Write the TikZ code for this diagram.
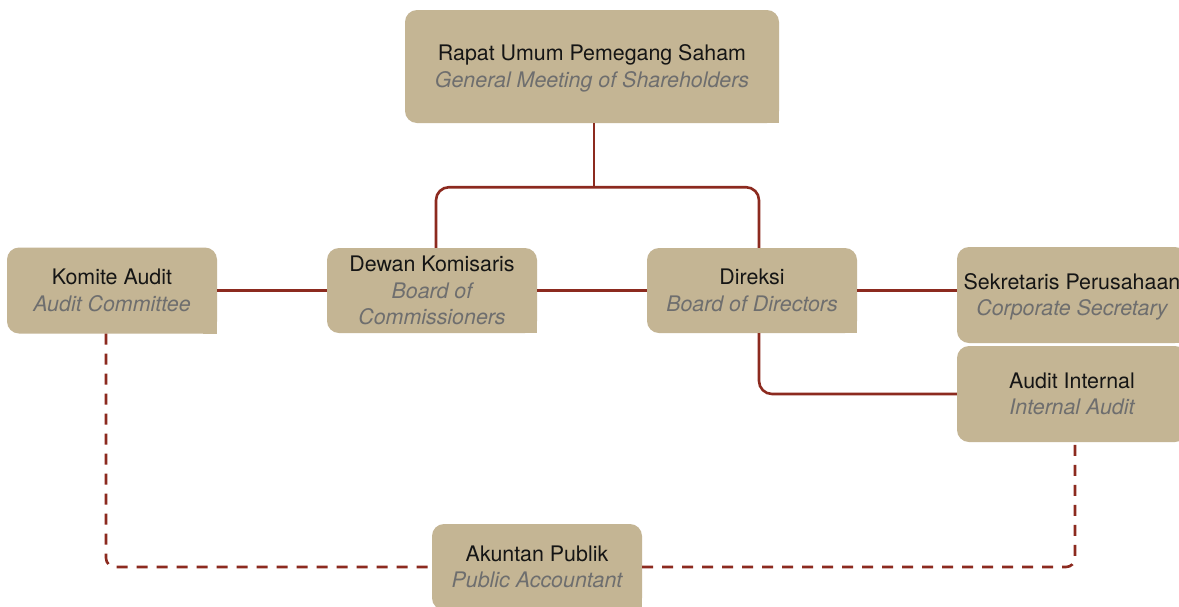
\documentclass[tikz,border=0pt]{standalone}
\usepackage{fontspec}
\setmainfont{TeX Gyre Heros}
\usetikzlibrary{backgrounds}

\definecolor{boxfill}{HTML}{C4B594}
\definecolor{linkred}{HTML}{8C2A1F}
\definecolor{maintext}{HTML}{151515}
\definecolor{subgray}{HTML}{6E6E6E}

% every line gets the same strut so the caps sit centred in the box
\newcommand{\orgstrut}{\rule[-5.55pt]{0pt}{26.5pt}}
\newcommand{\orgmain}[1]{{\orgstrut\color{maintext}#1}}
\newcommand{\orgsub}[1]{{\orgstrut\color{subgray}\itshape #1}}

\tikzset{
  orgbox/.style={fill=boxfill, rounded corners=12pt, inner sep=0pt, align=center,
    font=\fontsize{21.4}{26.5}\selectfont, minimum width=210pt, minimum height=86pt},
  conn/.style={draw=linkred, line width=2.6pt},
  dashconn/.style={conn, dash pattern=on 11pt off 9pt},
}

\begin{document}
\begin{tikzpicture}[x=1pt, y=-1pt]
\useasboundingbox (0,0) rectangle (1179,606);

% boxes
\node[orgbox, minimum width=374pt, minimum height=113pt] (rups) at (592,66.5)
  {\orgmain{Rapat Umum Pemegang Saham}\\\orgsub{General Meeting of Shareholders}};
\node[orgbox] (ka) at (112,290.5)
  {\orgmain{Komite Audit}\\\orgsub{Audit Committee}};
\node[orgbox, minimum height=85pt] (dk) at (432,290.5)
  {\orgmain{Dewan Komisaris}\\\orgsub{Board of}\\\orgsub{Commissioners}};
\node[orgbox, minimum height=85pt] (dir) at (752,290.5)
  {\orgmain{Direksi}\\\orgsub{Board of Directors}};
\node[orgbox, minimum width=230pt, minimum height=96pt] (sp) at (1072,295)
  {\orgmain{Sekretaris Perusahaan}\\\orgsub{Corporate Secretary}};
\node[orgbox, minimum width=230pt, minimum height=96pt] (ai) at (1072,394)
  {\orgmain{Audit Internal}\\\orgsub{Internal Audit}};
\node[orgbox] (ap) at (537,567)
  {\orgmain{Akuntan Publik}\\\orgsub{Public Accountant}};

% square lower right corners
\begin{scope}[on background layer]
  \fill[white] (0,0) rectangle (1179,606);
  \foreach \n in {rups,ka,dk,dir,sp,ap}
    \fill[boxfill] (\n.south east) rectangle ([xshift=-14pt,yshift=14pt]\n.south east);
\end{scope}

% solid reporting lines
\draw[conn] ([xshift=2pt]rups.south) -- ++(0,64) coordinate (j);
\draw[conn, rounded corners=13pt] ([xshift=4pt]dk.north) |- (j) -| ([xshift=7pt]dir.north);
\draw[conn] (ka.east) -- (ka.east -| dk.west);
\draw[conn] (dk.east) -- (dk.east -| dir.west);
\draw[conn] (dir.east) -- (dir.east -| sp.west);
\draw[conn, rounded corners=13pt] ([xshift=7pt]dir.south) |- (ai.west);

% dashed coordination lines
\draw[dashconn, rounded corners=9pt] ([xshift=-6pt]ka.south) |- (ap.west);
\draw[dashconn, rounded corners=9pt] (ap.east) -| ([xshift=3pt]ai.south);
\end{tikzpicture}
\end{document}
